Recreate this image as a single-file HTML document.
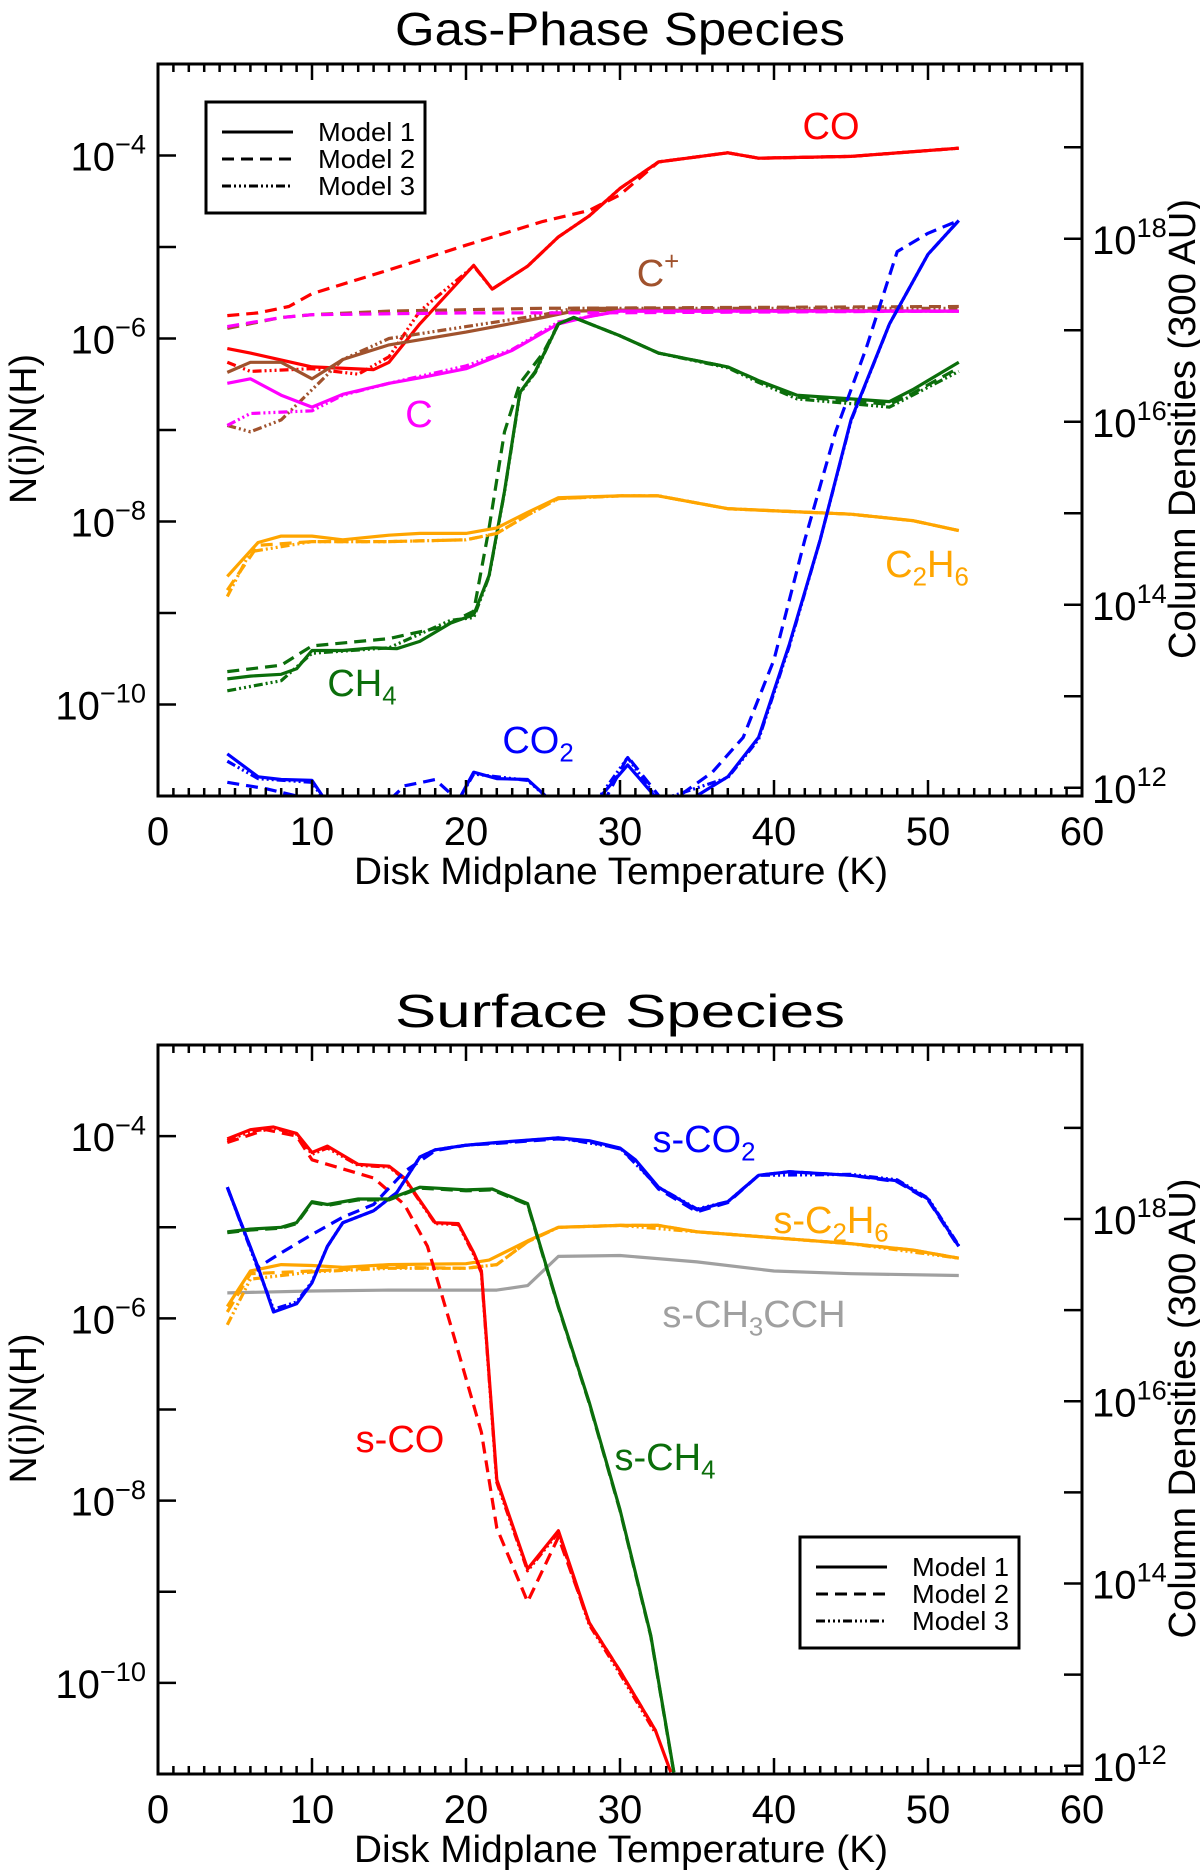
<!DOCTYPE html>
<html><head><meta charset="utf-8"><style>
html,body{margin:0;padding:0;background:#fff;}
svg{display:block;font-family:"Liberation Sans","DejaVu Sans",sans-serif;}
</style></head><body>
<svg id="fig" width="1200" height="1870" viewBox="0 0 1200 1870" xmlns="http://www.w3.org/2000/svg"></svg>
<script>
// ---- data: [temperature K, log10 N(i)/N(H)] ----
const gasCO_m1=[[4.5,-6.11],[6,-6.16],[10,-6.31],[14,-6.34],[15,-6.26],[17,-5.84],[20.5,-5.2],[21.7,-5.46],[24,-5.21],[26,-4.89],[28,-4.66],[30,-4.36],[32.5,-4.07],[37,-3.97],[39,-4.03],[45,-4.01],[52,-3.92]];
const gasCO_m2=[[4.5,-5.75],[6.5,-5.72],[8.5,-5.65],[10,-5.51],[15,-5.25],[20,-4.98],[25,-4.72],[28,-4.6],[30,-4.43],[32.5,-4.07],[37,-3.97],[39,-4.03],[45,-4.01],[52,-3.92]];
const gasCO_m3=[[4.5,-6.26],[6,-6.36],[10,-6.33],[13,-6.39],[15,-6.2],[17,-5.7],[20.5,-5.21],[21.7,-5.46],[24,-5.21],[26,-4.89],[28,-4.66],[30,-4.36],[32.5,-4.07],[37,-3.97],[39,-4.03],[45,-4.01],[52,-3.92]];
const gasCp_m1=[[4.5,-6.37],[6,-6.26],[8,-6.26],[10,-6.44],[12,-6.23],[15,-6.07],[20,-5.93],[25,-5.77],[27,-5.7],[30,-5.69],[52,-5.7]];
const gasCp_m2=[[4.5,-5.89],[8,-5.77],[10,-5.74],[15,-5.7],[25,-5.67],[52,-5.65]];
const gasCp_m3=[[4.5,-6.95],[6,-7.02],[8,-6.89],[10,-6.56],[12,-6.23],[15,-6.0],[20,-5.87],[25,-5.74],[27,-5.67],[52,-5.67]];
const gasC_m1=[[4.5,-6.49],[6,-6.44],[8,-6.62],[10,-6.75],[12,-6.61],[15,-6.49],[17,-6.43],[20,-6.33],[23,-6.13],[26,-5.84],[28,-5.76],[30,-5.7],[52,-5.7]];
const gasC_m2=[[4.5,-5.87],[8,-5.77],[10,-5.74],[20,-5.72],[28,-5.72],[52,-5.7]];
const gasC_m3=[[4.5,-6.95],[6,-6.82],[10,-6.79],[12,-6.62],[15,-6.49],[20,-6.3],[23,-6.12],[26,-5.82],[30,-5.7],[52,-5.7]];
const gasCH4_m1=[[4.5,-9.72],[6,-9.69],[8,-9.67],[9,-9.61],[10,-9.41],[12,-9.41],[14,-9.38],[15.5,-9.39],[17,-9.31],[19,-9.11],[20.5,-9.02],[21.5,-8.59],[22.5,-7.67],[23.5,-6.59],[24.5,-6.36],[26,-5.84],[27,-5.77],[30,-5.97],[32.5,-6.16],[37,-6.31],[39,-6.46],[41.5,-6.62],[45,-6.66],[47.5,-6.69],[49,-6.56],[52,-6.26]];
const gasCH4_m2=[[4.5,-9.64],[8,-9.57],[10,-9.36],[15,-9.28],[18.5,-9.15],[20.5,-8.98],[21.5,-8.07],[22.5,-7.02],[23.5,-6.49],[25,-6.16],[26,-5.84],[27,-5.77],[30,-5.97],[32.5,-6.16],[37,-6.31],[39,-6.46],[41.5,-6.64],[45,-6.68],[47.5,-6.72],[49,-6.6],[52,-6.32]];
const gasCH4_m3=[[4.5,-9.85],[8,-9.74],[10,-9.44],[15,-9.38],[19,-9.08],[20.5,-9.05],[21.5,-8.6],[22.5,-7.68],[23.5,-6.6],[24.5,-6.37],[26,-5.84],[27,-5.77],[30,-5.97],[32.5,-6.16],[37,-6.32],[39,-6.48],[41.5,-6.66],[47.5,-6.75],[52,-6.36]];
const gasC2H6_m1=[[4.5,-8.6],[6.5,-8.23],[8,-8.16],[10,-8.16],[12,-8.2],[15,-8.15],[17,-8.13],[20,-8.13],[22,-8.07],[24,-7.9],[26,-7.74],[30,-7.72],[32.5,-7.72],[37,-7.86],[45,-7.92],[49,-7.99],[52,-8.1]];
const gasC2H6_m2=[[4.5,-8.75],[6.5,-8.26],[10,-8.22],[15,-8.22],[20,-8.2],[22,-8.13],[24,-7.93],[26,-7.75],[30,-7.72],[32.5,-7.72],[37,-7.86],[45,-7.92],[49,-7.99],[52,-8.1]];
const gasC2H6_m3=[[4.5,-8.82],[6,-8.33],[10,-8.22],[15,-8.22],[20,-8.2],[22,-8.13],[24,-7.93],[26,-7.75],[30,-7.72],[32.5,-7.72],[37,-7.86],[45,-7.92],[49,-7.99],[52,-8.1]];
const gasCO2_m1=[[4.5,-10.54],[6.5,-10.79],[8,-10.82],[10,-10.83],[11,-11.08],[14,-11.3],[19.5,-11.05],[20.5,-10.74],[22,-10.81],[24,-10.82],[25.5,-11.05],[28.5,-11.05],[30.5,-10.66],[32.5,-11.05],[34,-11.1],[37,-10.79],[39,-10.36],[41,-9.34],[43,-8.2],[45,-6.89],[47.5,-5.84],[50,-5.08],[52,-4.71]];
const gasCO2_m2=[[4.5,-10.85],[7,-10.92],[9,-11.0],[12,-11.2],[15,-11.05],[16,-10.89],[18,-10.82],[19.5,-11.05],[25,-11.2],[29,-11.05],[30.5,-10.57],[33,-11.1],[36,-10.74],[38,-10.36],[40,-9.51],[42,-8.2],[44,-7.02],[46,-6.1],[48,-5.05],[50,-4.85],[52,-4.71]];
const gasCO2_m3=[[4.5,-10.62],[6.5,-10.81],[10,-10.85],[11,-11.1],[19.5,-11.05],[20.5,-10.76],[24,-10.83],[25.5,-11.05],[28.5,-11.05],[30.5,-10.58],[32.5,-11.05],[37,-10.8],[39,-10.38],[41,-9.36],[43,-8.2],[45,-6.9],[47.5,-5.84],[50,-5.08],[52,-4.71]];

const sCO_m1=[[4.5,-4.03],[6,-3.93],[7.5,-3.9],[9,-3.97],[10,-4.18],[11,-4.11],[13,-4.31],[15,-4.33],[16,-4.46],[18,-4.95],[19.5,-4.96],[20.5,-5.28],[21,-5.48],[22,-7.77],[24,-8.75],[26,-8.33],[28,-9.34],[30,-9.87],[32.3,-10.52],[33.3,-10.98]];
const sCO_m2=[[4.5,-4.07],[7,-3.93],[9,-4.0],[10,-4.26],[12,-4.36],[14,-4.46],[16,-4.75],[17.5,-5.21],[19,-6.07],[20,-6.66],[21,-7.25],[22,-8.3],[24,-9.11],[26,-8.4],[28,-9.34],[30,-9.87],[32.3,-10.52]];
const sCO_m3=[[4.5,-4.05],[6,-3.95],[7.5,-3.91],[9,-3.98],[10,-4.2],[11,-4.13],[13,-4.32],[15,-4.34],[16,-4.47],[18,-4.96],[19.5,-4.97],[20.5,-5.3],[21,-5.5],[22,-7.8],[24,-8.77],[26,-8.35],[28,-9.36],[30,-9.9],[32.3,-10.55]];
const sCO2_m1=[[4.5,-4.56],[6.5,-5.44],[7.5,-5.93],[9,-5.84],[10,-5.61],[11,-5.21],[12,-4.95],[14,-4.82],[15.5,-4.62],[17,-4.23],[18,-4.15],[20,-4.1],[22,-4.07],[26,-4.02],[28,-4.05],[30,-4.13],[31,-4.26],[32.5,-4.56],[35,-4.81],[37,-4.72],[39,-4.43],[41,-4.39],[45,-4.43],[48,-4.49],[50,-4.69],[52,-5.21]];
const sCO2_m2=[[4.5,-4.56],[6.5,-5.44],[8,-5.28],[10,-5.08],[12,-4.89],[14,-4.75],[16,-4.39],[18,-4.16],[20,-4.1],[22,-4.08],[26,-4.03],[28,-4.06],[30,-4.14],[31,-4.28],[32.5,-4.58],[35,-4.83],[37,-4.73],[39,-4.43],[41,-4.39],[45,-4.43],[48,-4.5],[50,-4.7],[52,-5.22]];
const sCO2_m3=[[4.5,-4.56],[6.5,-5.46],[7.5,-5.9],[9,-5.82],[10,-5.6],[11,-5.21],[12,-4.95],[14,-4.82],[15.5,-4.62],[17,-4.23],[18,-4.15],[20,-4.1],[26,-4.02],[30,-4.13],[32.5,-4.56],[35,-4.8],[37,-4.72],[39,-4.43],[45,-4.42],[48,-4.48],[50,-4.68],[52,-5.2]];
const sCH4_m1=[[4.5,-5.05],[6,-5.02],[8,-5.0],[9,-4.95],[10,-4.72],[11,-4.75],[13,-4.69],[15,-4.69],[17,-4.56],[20,-4.59],[21.7,-4.58],[24,-4.74],[26,-5.87],[28,-6.92],[30,-8.1],[32,-9.48],[33.5,-10.98]];
const sCH4_m2=[[4.5,-5.06],[6,-5.03],[8,-5.01],[9,-4.96],[10,-4.73],[11,-4.76],[13,-4.7],[15,-4.7],[17,-4.57],[20,-4.6],[21.7,-4.59],[24,-4.75],[26,-5.88],[28,-6.93],[30,-8.11],[32,-9.49],[33.5,-10.99]];
const sC2H6_m1=[[4.5,-5.87],[6,-5.48],[8,-5.41],[10,-5.42],[12,-5.44],[15,-5.41],[20,-5.4],[21.5,-5.36],[24,-5.15],[26,-5.0],[30,-4.98],[32.5,-4.98],[35,-5.05],[45,-5.18],[49,-5.25],[52,-5.34]];
const sC2H6_m2=[[4.5,-5.93],[6,-5.51],[10,-5.48],[15,-5.44],[20,-5.45],[22,-5.41],[24,-5.16],[26,-5.0],[30,-4.98],[32.5,-4.98],[35,-5.05],[45,-5.18],[49,-5.25],[52,-5.34]];
const sC2H6_m3=[[4.5,-6.07],[6,-5.57],[10,-5.49],[15,-5.45],[20,-5.45],[22,-5.41],[24,-5.16],[26,-5.0],[30,-4.98],[35,-5.05],[45,-5.18],[52,-5.34]];
const sCH3CCH_m1=[[4.5,-5.72],[10,-5.7],[15,-5.69],[20,-5.69],[22,-5.69],[24,-5.64],[26,-5.32],[30,-5.31],[35,-5.38],[40,-5.48],[45,-5.51],[52,-5.53]];

const xTicks=[0,10,20,30,40,50,60];
const leftTickExp=[-4,-6,-8,-10];
const rightTickExp=[12,14,16,18];
const colOffset=22.91; // log column density = log abundance + offset

const panels=[
 {name:'gas-phase',top:64,bottom:796,title:'Gas-Phase Species',titleY:45,series:[
  ['co-model1',gasCO_m1,'#ff0000',0],['co-model2',gasCO_m2,'#ff0000',1],['co-model3',gasCO_m3,'#ff0000',2],
  ['cplus-model1',gasCp_m1,'#a0522d',0],['cplus-model2',gasCp_m2,'#a0522d',1],['cplus-model3',gasCp_m3,'#a0522d',2],
  ['c-model1',gasC_m1,'#ff00ff',0],['c-model2',gasC_m2,'#ff00ff',1],['c-model3',gasC_m3,'#ff00ff',2],
  ['ch4-model1',gasCH4_m1,'#0b6e0b',0],['ch4-model2',gasCH4_m2,'#0b6e0b',1],['ch4-model3',gasCH4_m3,'#0b6e0b',2],
  ['c2h6-model1',gasC2H6_m1,'#ffa500',0],['c2h6-model2',gasC2H6_m2,'#ffa500',1],['c2h6-model3',gasC2H6_m3,'#ffa500',2],
  ['co2-model1',gasCO2_m1,'#0000ff',0],['co2-model2',gasCO2_m2,'#0000ff',1],['co2-model3',gasCO2_m3,'#0000ff',2]],
  labels:[['CO',831,139,'#ff0000'],['C|+',658,286,'#a0522d'],['C',419,427,'#ff00ff'],['C_2H_6',927,577,'#ffa500'],['CH_4',362,696,'#0b6e0b'],['CO_2',538,753,'#0000ff']],
  legend:[206,102]},
 {name:'surface',top:1045,bottom:1774,title:'Surface Species',titleY:1027,series:[
  ['s-ch3cch-model1',sCH3CCH_m1,'#a0a0a0',0],
  ['s-c2h6-model1',sC2H6_m1,'#ffa500',0],['s-c2h6-model2',sC2H6_m2,'#ffa500',1],['s-c2h6-model3',sC2H6_m3,'#ffa500',2],
  ['s-co-model1',sCO_m1,'#ff0000',0],['s-co-model2',sCO_m2,'#ff0000',1],['s-co-model3',sCO_m3,'#ff0000',2],
  ['s-co2-model1',sCO2_m1,'#0000ff',0],['s-co2-model2',sCO2_m2,'#0000ff',1],['s-co2-model3',sCO2_m3,'#0000ff',2],
  ['s-ch4-model1',sCH4_m1,'#0b6e0b',0],['s-ch4-model2',sCH4_m2,'#0b6e0b',1]],
  labels:[['s-CO_2',704,1152,'#0000ff'],['s-C_2H_6',831,1233,'#ffa500'],['s-CH_3CCH',754,1327,'#a0a0a0'],['s-CO',400,1452,'#ff0000'],['s-CH_4',665,1470,'#0b6e0b']],
  legend:[800,1537]}
];
const DASH=['none','12,7','9,3,2,3,2,3,2,3'];
const NS='http://www.w3.org/2000/svg';
const svg=document.getElementById('fig');
const L=158,R=1082;
function xS(t){return L+(t-0)/60*(R-L);}
function mk(tag,attrs,parent){const e=document.createElementNS(NS,tag);for(const k in attrs)e.setAttribute(k,attrs[k]);(parent||svg).appendChild(e);return e;}

function richText(parent,str,x,y,size,color,anchor){
  const t=mk('text',{x:x,y:y,'font-size':size,fill:color,'text-anchor':anchor||'middle'},parent);
  let i=0, pending=0;
  while(i<str.length){
    const c=str[i];
    if(c==='_'){const s=mk('tspan',{'font-size':size*0.68,dy:pending+size*0.22},t);s.textContent=str[i+1];pending=-size*0.22;i+=2;continue;}
    if(c==='|'){const s=mk('tspan',{'font-size':size*0.68,dy:pending-size*0.42},t);s.textContent=str.slice(i+1);pending=0;break;}
    let j=i;while(j<str.length&&str[j]!=='_'&&str[j]!=='|')j++;
    const s=mk('tspan',pending?{dy:pending}:{},t);s.textContent=str.slice(i,j);pending=0;i=j;
  }
  return t;
}

panels.forEach((p,pi)=>{
  const g=mk('g',{});
  
  
  const yS=v=>p.top+(-3-v)/8*(p.bottom-p.top);
  const clipId='clip'+pi;
  const cp=mk('clipPath',{id:clipId},g);mk('rect',{x:L,y:p.top,width:R-L,height:p.bottom-p.top},cp);
  const title=mk('text',{x:620,y:p.titleY,'font-size':46,'text-anchor':'middle',fill:'#000',textLength:450,lengthAdjust:'spacingAndGlyphs'},g);
  title.textContent=p.title;
  
  
  const sg=mk('g',{'clip-path':'url(#'+clipId+')'},g);
  p.series.forEach(s=>{
    const d=s[1].map((pt,k)=>(k?'L':'M')+xS(pt[0]).toFixed(1)+','+yS(pt[1]).toFixed(1)).join(' ');
    const path=mk('path',{d:d,fill:'none',stroke:s[2],'stroke-width':3.2,'stroke-dasharray':DASH[s[3]],'stroke-linejoin':'round'},sg);
    
    
  });
  const fr=mk('rect',{x:L,y:p.top,width:R-L,height:p.bottom-p.top,fill:'none',stroke:'#000','stroke-width':3},g);
  
  
  for(let t=0;t<=60;t++){
    const major=t%10===0;const len=major?16:8;const x=xS(t);
    mk('line',{x1:x,x2:x,y1:p.bottom,y2:p.bottom-len,stroke:'#000','stroke-width':2.5},g);
    mk('line',{x1:x,x2:x,y1:p.top,y2:p.top+len,stroke:'#000','stroke-width':2.5},g);
  }
  xTicks.forEach(t=>{
    const tl=mk('text',{x:xS(t),y:p.bottom+49,'font-size':40,'text-anchor':'middle',fill:'#000'},g);
    tl.textContent=t;
    
    
  });
  for(let e=-11;e<=-3;e++){const y=yS(e);mk('line',{x1:L,x2:L+18,y1:y,y2:y,stroke:'#000','stroke-width':2.5},g);}
  leftTickExp.forEach(e=>{
    const tl=richText(g,'10|\u2212'+(-e),146,yS(e)+15,40,'#000','end');
    
    
  });
  for(let c=12;c<=19;c++){const y=yS(c-colOffset);if(y<p.top||y>p.bottom)continue;mk('line',{x1:R,x2:R-18,y1:y,y2:y,stroke:'#000','stroke-width':2.5},g);}
  rightTickExp.forEach(c=>{
    const tl=richText(g,'10|'+c,1092,yS(c-colOffset)+15,40,'#000','start');
    
    
  });
  const xt=mk('text',{x:621,y:p.bottom+88,'font-size':38,'text-anchor':'middle',fill:'#000',textLength:534,lengthAdjust:'spacingAndGlyphs'},g);
  xt.textContent='Disk Midplane Temperature (K)';
  
  
  const cy=(p.top+p.bottom)/2;
  const yt=mk('text',{x:0,y:0,'font-size':38,'text-anchor':'middle',fill:'#000',textLength:150,lengthAdjust:'spacingAndGlyphs',transform:'translate(36,'+(cy-1)+') rotate(-90)'},g);
  yt.textContent='N(i)/N(H)';
  
  
  const rt=mk('text',{x:0,y:0,'font-size':38,'text-anchor':'middle',fill:'#000',textLength:460,lengthAdjust:'spacingAndGlyphs',transform:'translate(1195,'+(cy-1)+') rotate(-90)'},g);
  rt.textContent='Column Densities (300 AU)';
  
  
  p.labels.forEach(l=>{
    const t=richText(g,l[0],l[1],l[2],38,l[3],'middle');
    
    
  });
  const lx=p.legend[0],ly=p.legend[1];
  const lg=mk('g',{},g);
  
  
  mk('rect',{x:lx,y:ly,width:219,height:111,fill:'#fff',stroke:'#000','stroke-width':3},lg);
  ['Model 1','Model 2','Model 3'].forEach((m,k)=>{
    const y=ly+30+k*27;
    mk('line',{x1:lx+16,x2:lx+87,y1:y,y2:y,stroke:'#000','stroke-width':3,'stroke-dasharray':DASH[k]},lg);
    const t=mk('text',{x:lx+112,y:y+9,'font-size':26,fill:'#000',textLength:97,lengthAdjust:'spacingAndGlyphs'},lg);
    t.textContent=m;
    
    
  });
});
</script>
</body></html>
